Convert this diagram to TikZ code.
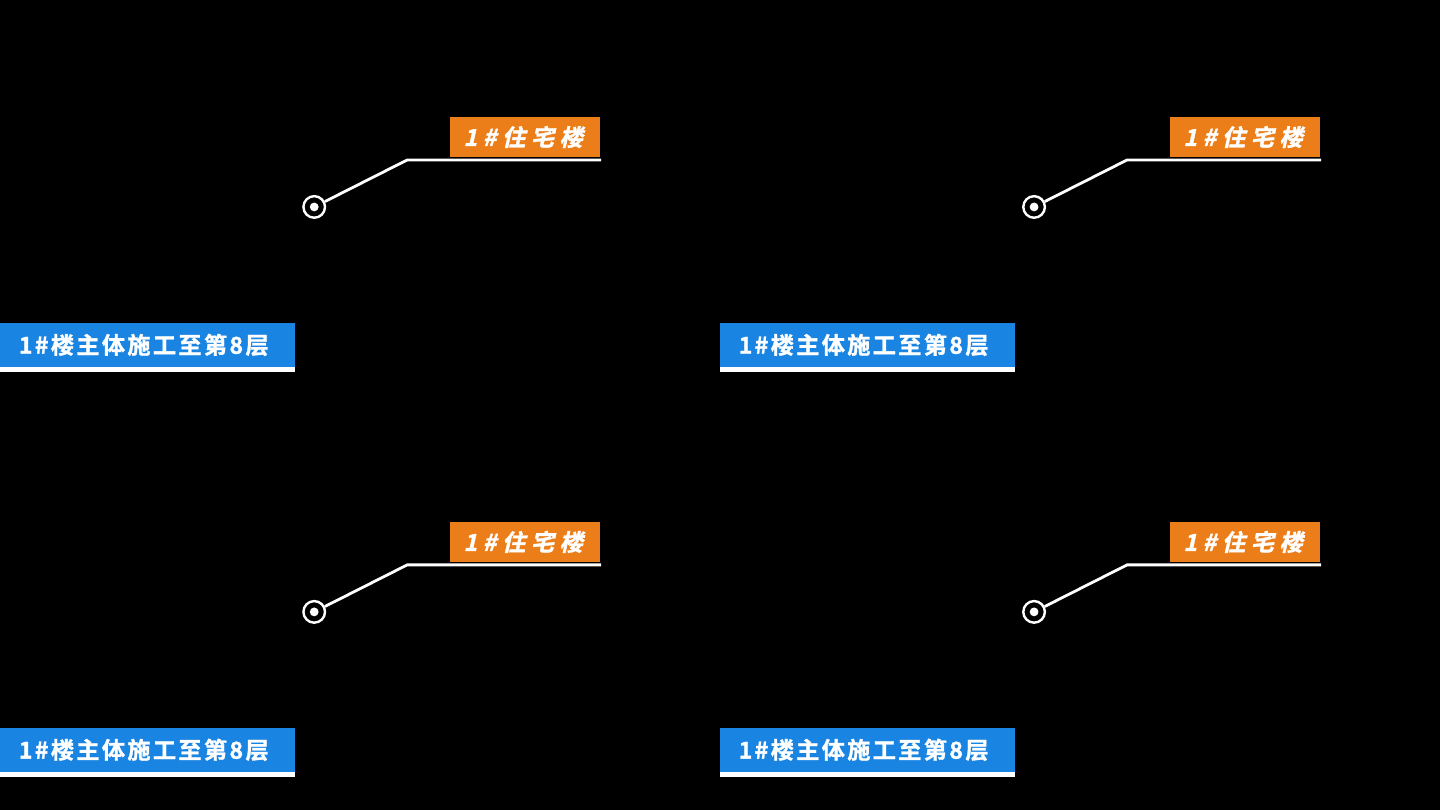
\documentclass[tikz,border=0pt]{standalone}
\usepackage{fontspec}
\newfontfamily\tagfont[FakeSlant=0.22,FakeBold=1.5,LetterSpace=24]{Noto Sans CJK SC Bold}
\newfontfamily\barfont[FakeBold=1.2,LetterSpace=10]{Noto Sans CJK SC Bold}
\definecolor{tagorange}{RGB}{236,126,26}
\definecolor{barblue}{RGB}{26,132,226}

\begin{document}
\begin{tikzpicture}[x=0.25mm,y=-0.25mm,
  tag/.style={fill=tagorange, text=white, inner sep=0pt,
    minimum width=37.5mm, minimum height=10mm, font=\tagfont\fontsize{16.5pt}{16.5pt}\selectfont},
  bar/.style={fill=barblue, text=white, inner sep=0pt,
    minimum width=73.75mm, minimum height=11mm, font=\barfont\fontsize{16.5pt}{16.5pt}\selectfont},
  ring/.style={circle, draw=white, line width=0.6mm, minimum size=5.4mm, inner sep=0pt},
  leader/.style={white, line width=0.7mm},
  ]
  \fill[black] (0,0) rectangle (1440,810);
  \foreach \dx/\dy/\n in {0/0/a, 720/0/b, 0/405/c, 720/405/d} {
    \begin{scope}[shift={(\dx,\dy)}]
      \node[tag] (tag\n) at (525,137) {1\#住宅楼\hspace*{1mm}};
      \node[ring] (pin\n) at (314,207) {};
      \fill[white] (pin\n) circle (1.1mm);
      \coordinate (knee\n) at (407,160);
      \coordinate (end\n) at (601,160);
      \draw[leader] (pin\n) -- (knee\n) -- (end\n);
      \node[bar] (bar\n) at (147.5,345) {1\#楼主体施工至第8层\hspace*{2mm}};
      \fill[white] (bar\n.south west) rectangle ++(295,5);
    \end{scope}
  }
\end{tikzpicture}
\end{document}
